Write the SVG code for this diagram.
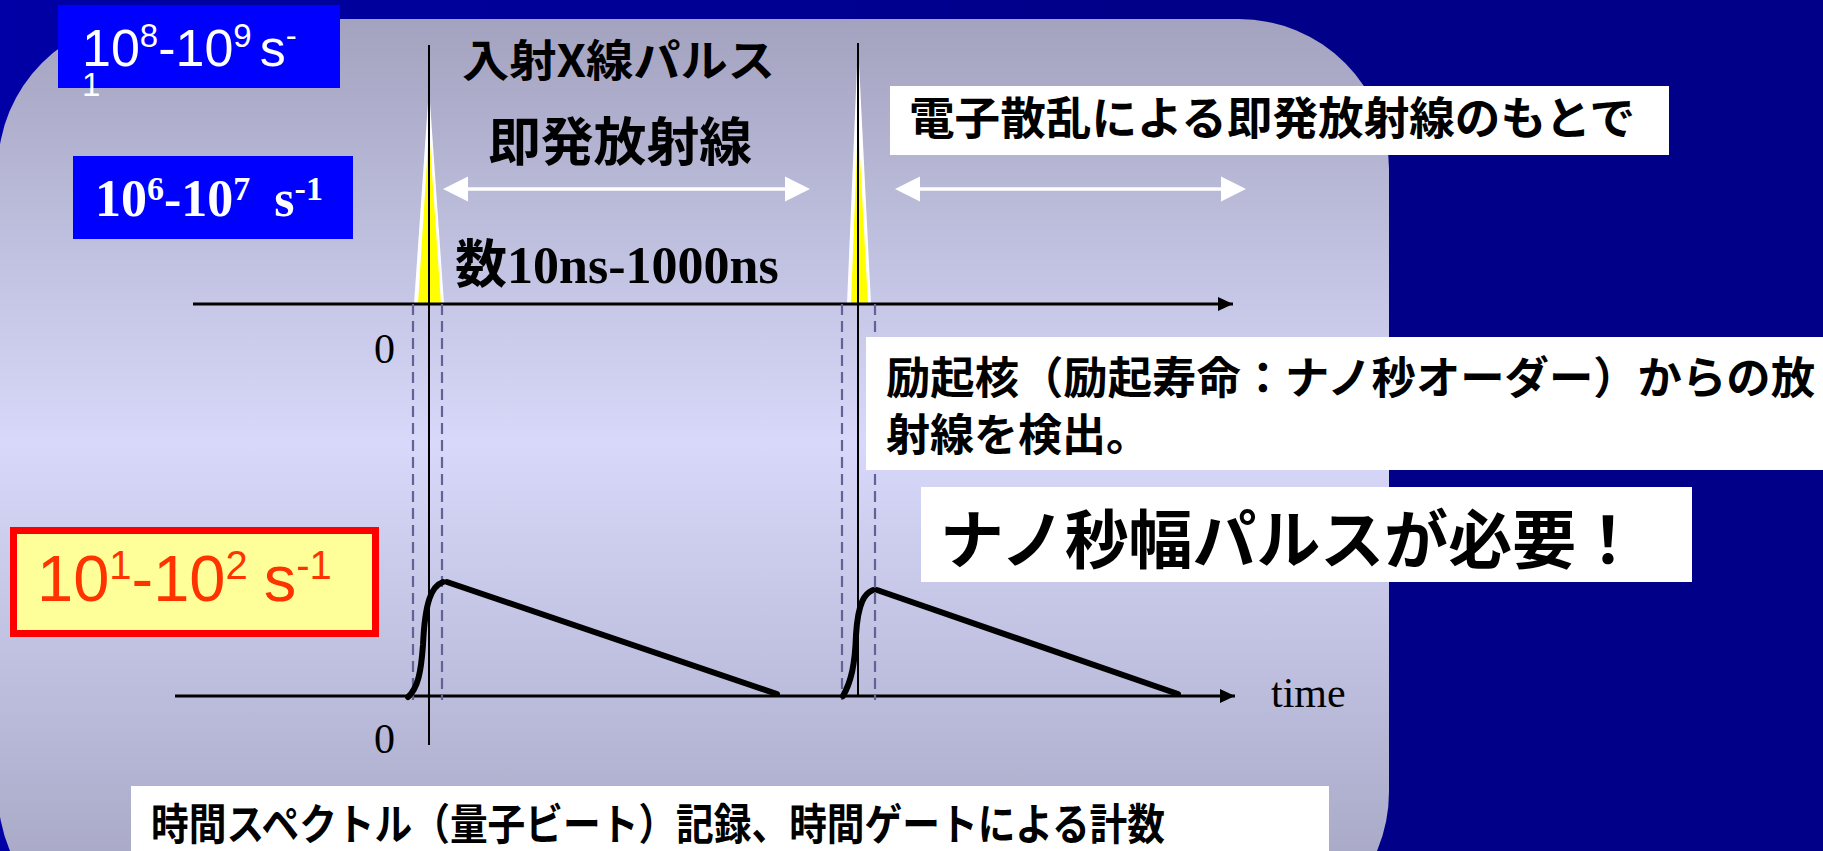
<svg xmlns="http://www.w3.org/2000/svg" width="1823" height="851" viewBox="0 0 1823 851">
<defs>
<linearGradient id="bg" x1="0" y1="0" x2="1" y2="0">
<stop offset="0" stop-color="#0000A6"/>
<stop offset="0.65" stop-color="#000088"/>
<stop offset="1" stop-color="#000088"/>
</linearGradient>
<linearGradient id="panel" x1="0" y1="0" x2="0" y2="1">
<stop offset="0" stop-color="#A3A3C0"/>
<stop offset="0.46" stop-color="#D8D8FA"/>
<stop offset="1" stop-color="#A0A0BE"/>
</linearGradient>
<marker id="ah" markerWidth="15" markerHeight="14" refX="15" refY="7" orient="auto" markerUnits="userSpaceOnUse">
<path d="M0,0 L15,7 L0,14 Z" fill="#000"/>
</marker>
<style>
.jp{font-family:"Noto Sans CJK JP","Noto Sans CJK SC",sans-serif;font-weight:bold;fill:#000}
.tm{font-family:"Liberation Serif","Times New Roman",serif;fill:#000}
.ar{font-family:"Liberation Sans",Arial,sans-serif}
.axis{stroke:#000;stroke-width:3;fill:none}
.vl{stroke:#000;stroke-width:2;fill:none}
.dash{stroke:#626294;stroke-width:2.2;stroke-dasharray:11 6;fill:none}
.curve{stroke:#000;stroke-width:6;fill:none;stroke-linecap:round}
.warr{stroke:#fff;stroke-width:3.5}
.whead{fill:#fff}
.wbox{fill:#fff}
</style>
</defs>
<rect x="0" y="0" width="1823" height="851" fill="url(#bg)"/>
<rect x="-2" y="19" width="1391" height="923" rx="150" ry="150" fill="url(#panel)"/>

<g id="pulses">
<polygon points="429,88 414,304 444,304" fill="#fff"/>
<polygon points="429,128 418,304 441,304" fill="#FFFF00"/>
<polygon points="858,43 847,304 871,304" fill="#fff"/>
<polygon points="858,120 851,304 868,304" fill="#FFFF00"/>
</g>

<g id="connectors">
<line class="axis" x1="193" y1="304" x2="1233" y2="304" marker-end="url(#ah)"/>
<line class="axis" x1="175" y1="696" x2="1235" y2="696" marker-end="url(#ah)"/>
<line class="vl" x1="429" y1="45" x2="429" y2="745"/>
<line class="vl" x1="858" y1="43" x2="858" y2="697"/>
<line class="dash" x1="413" y1="304" x2="413" y2="700"/>
<line class="dash" x1="442" y1="304" x2="442" y2="700"/>
<line class="dash" x1="842" y1="304" x2="842" y2="700"/>
<line class="dash" x1="875" y1="304" x2="875" y2="700"/>
<path class="curve" d="M408,697 C418,688 421,672 423,645 C425,600 432,586 443,582"/>
<path class="curve" d="M447,582 L777,694"/>
<path class="curve" d="M843,696 C851,682 855,665 856,635 C858,602 865,593 873,590"/>
<path class="curve" d="M877,590 L1178,694"/>
<g id="arrow1">
<line class="warr" x1="460" y1="189" x2="793" y2="189"/>
<polygon class="whead" points="443,189 468,176.5 468,201.5"/>
<polygon class="whead" points="810,189 785,176.5 785,201.5"/>
</g>
<g id="arrow2">
<line class="warr" x1="912" y1="189" x2="1228" y2="189"/>
<polygon class="whead" points="895,189 920,176.5 920,201.5"/>
<polygon class="whead" points="1246,189 1221,176.5 1221,201.5"/>
</g>
</g>

<g id="rate-high">
<rect x="58" y="5" width="282" height="83" fill="#0000FF"/>
<text class="ar" x="82" y="66" font-size="52" fill="#fff">10<tspan font-size="33" dy="-19">8</tspan><tspan dy="19">-10</tspan><tspan font-size="33" dy="-19">9</tspan><tspan dy="19" dx="8">s</tspan><tspan font-size="33" dy="-19">-</tspan></text>
<text class="ar" x="82" y="96" font-size="33" fill="#fff">1</text>
</g>

<g id="rate-mid">
<rect x="73" y="156" width="280" height="83" fill="#0000FF"/>
<text class="tm" x="95" y="216" font-size="52" font-weight="bold" style="fill:#fff">10<tspan font-size="34" dy="-16">6</tspan><tspan dy="16">-10</tspan><tspan font-size="34" dy="-16">7</tspan><tspan dy="16" dx="24">s</tspan><tspan font-size="34" dy="-16">-1</tspan></text>
</g>

<g id="rate-low">
<rect x="13.5" y="530.5" width="362" height="103" fill="#FFFF99" stroke="#FF0000" stroke-width="7"/>
<text class="ar" x="37" y="601" font-size="65" fill="#FF3300">10<tspan font-size="40" dy="-22">1</tspan><tspan dy="22">-10</tspan><tspan font-size="40" dy="-22">2</tspan><tspan dy="22" dx="16">s</tspan><tspan font-size="40" dy="-22">-1</tspan></text>
</g>

<g id="label-xray">
<text class="jp" x="462" y="77" font-size="44" textLength="313" lengthAdjust="spacingAndGlyphs">入射X線パルス</text>
</g>
<g id="label-prompt">
<text class="jp" x="488" y="161" font-size="52" textLength="264" lengthAdjust="spacingAndGlyphs">即発放射線</text>
</g>
<g id="label-duration">
<text x="455" y="283" font-size="52" font-weight="bold"><tspan class="jp">数</tspan><tspan class="tm">10ns-1000ns</tspan></text>
</g>

<g id="note-electron">
<rect class="wbox" x="890" y="86" width="779" height="69"/>
<text class="jp" x="909" y="135" font-size="45" textLength="726" lengthAdjust="spacingAndGlyphs">電子散乱による即発放射線のもとで</text>
</g>

<g id="note-excited">
<rect class="wbox" x="866" y="337" width="957" height="133"/>
<text class="jp" x="886" y="394" font-size="44" textLength="929" lengthAdjust="spacingAndGlyphs">励起核（励起寿命：ナノ秒オーダー）からの放</text>
<text class="jp" x="886" y="451" font-size="44">射線を検出。</text>
</g>

<g id="note-nano">
<rect class="wbox" x="921" y="487" width="771" height="95"/>
<text class="jp" x="940" y="563" font-size="64" font-weight="900" textLength="700" lengthAdjust="spacingAndGlyphs">ナノ秒幅パルスが必要！</text>
</g>

<g id="axis-labels">
<text class="tm" x="374" y="363" font-size="42">0</text>
<text class="tm" x="374" y="753" font-size="42">0</text>
<text class="tm" x="1271" y="707" font-size="42">time</text>
</g>

<g id="note-bottom">
<rect class="wbox" x="131" y="786" width="1198" height="70"/>
<text class="jp" x="151" y="840" font-size="43" textLength="1014" lengthAdjust="spacingAndGlyphs">時間スペクトル（量子ビート）記録、時間ゲートによる計数</text>
</g>
</svg>
